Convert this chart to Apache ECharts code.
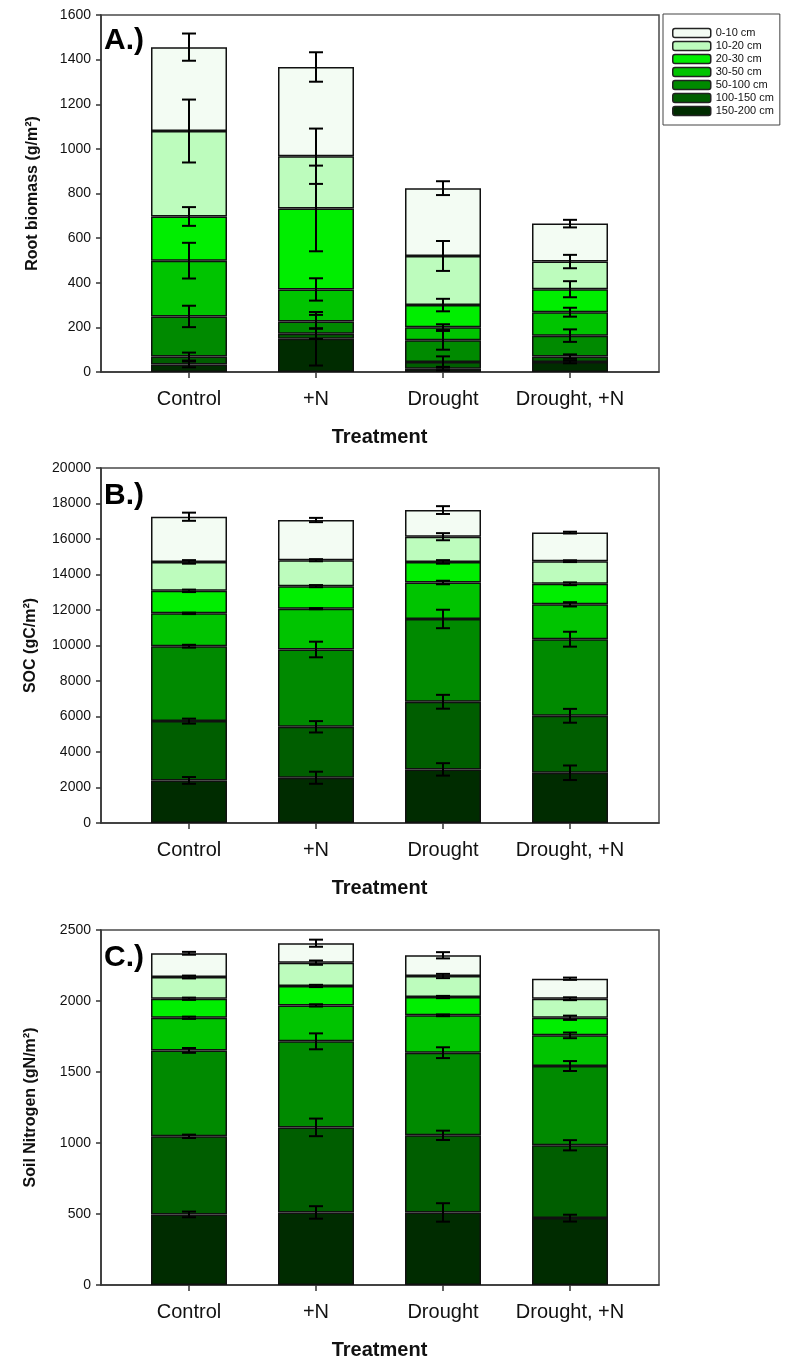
<!DOCTYPE html>
<html>
<head>
<meta charset="utf-8">
<script src="https://cdn.jsdelivr.net/npm/echarts@6/dist/echarts.min.js"></script>
<style>
  html, body { margin: 0; padding: 0; background: #fff; }
  #chart { width: 785px; height: 1363px; }
</style>
</head>
<body>
<div id="chart"></div>
<script>
// Treatments along the x axis
const treatments = ['Control', '+N', 'Drought', 'Drought, +N'];

// Soil depth layers, listed bottom of the stack first
const depthLayers = ['150-200 cm', '100-150 cm', '50-100 cm', '30-50 cm', '20-30 cm', '10-20 cm', '0-10 cm'];

// Root biomass per layer (g/m2); rows follow depthLayers, columns follow treatments
const biomass = [
  [34, 149, 15, 45],
  [35, 22, 30, 24],
  [180, 55, 97, 94],
  [250, 144, 59, 105],
  [198, 363, 99, 103],
  [383, 234, 220, 124],
  [376, 400, 304, 170]
];
const biomassErr = [
  [13, 120, 8, 6],
  [18, 23, 25, 10],
  [48, 30, 42, 28],
  [80, 50, 13, 20],
  [42, 192, 28, 36],
  [141, 124, 67, 30],
  [61, 66, 31, 17]
];

// Soil organic carbon per layer (gC/m2)
const soc = [
  [2400, 2550, 3020, 2830],
  [3340, 2870, 3810, 3210],
  [4220, 4355, 4665, 4315],
  [1850, 2300, 2055, 1965],
  [1270, 1270, 1160, 1160],
  [1630, 1460, 1420, 1270],
  [2545, 2265, 1500, 1610]
];
const socErr = [
  [190, 340, 350, 410],
  [140, 320, 390, 390],
  [80, 440, 520, 420],
  [40, 30, 100, 120],
  [70, 60, 100, 80],
  [100, 60, 200, 50],
  [230, 120, 220, 50]
];

// Soil nitrogen per layer (gN/m2)
const nitrogen = [
  [497, 511, 511, 471],
  [550, 599, 543, 513],
  [605, 606, 582, 558],
  [230, 253, 263, 216],
  [134, 137, 129, 124],
  [153, 164, 148, 134],
  [167, 137, 146, 141]
];
const nitrogenErr = [
  [20, 44, 65, 24],
  [12, 62, 33, 36],
  [17, 56, 38, 35],
  [8, 8, 6, 20],
  [8, 8, 8, 15],
  [10, 15, 15, 10],
  [10, 25, 22, 8]
];

// Fill colours, darkest for the deepest layer
const layerColors = ['#002c00', '#005e00', '#008a00', '#00c400', '#00ee00', '#bdfcbd', '#f3fcf3'];

const FONT = '"Liberation Sans", Arial, sans-serif';

const panels = [
  { values: biomass, errors: biomassErr, yMax: 1600, yStep: 200, yName: 'Root biomass (g/m²)', letter: 'A.)', top: 15, height: 357, letterTop: 26, nameGap: 60 },
  { values: soc, errors: socErr, yMax: 20000, yStep: 2000, yName: 'SOC (gC/m²)', letter: 'B.)', top: 468, height: 355, letterTop: 481, nameGap: 62 },
  { values: nitrogen, errors: nitrogenErr, yMax: 2500, yStep: 500, yName: 'Soil Nitrogen (gN/m²)', letter: 'C.)', top: 930, height: 355, letterTop: 943, nameGap: 62 }
];

// Frame spans 101..659 px; the four bars sit on a 127 px pitch inside it
const FRAME_LEFT = 101, FRAME_RIGHT = 126;
const BAR_LEFT = 125.5, BAR_RIGHT = 151.5;

const grid = [], xAxis = [], yAxis = [], series = [], title = [];

panels.forEach((p, pi) => {
  const frameIdx = pi * 2, barIdx = pi * 2 + 1;

  // framed grid carrying the y axis
  grid.push({
    left: FRAME_LEFT, right: FRAME_RIGHT, top: p.top, height: p.height,
    show: true, borderColor: '#4a4a4a', borderWidth: 1.5, backgroundColor: '#fff'
  });
  xAxis.push({
    type: 'value', gridIndex: frameIdx, min: 0, max: 1,
    axisLine: { show: true, onZero: false, lineStyle: { color: '#333', width: 1.5 } },
    axisTick: { show: false }, axisLabel: { show: false }, splitLine: { show: false }
  });
  yAxis.push({
    type: 'value', gridIndex: frameIdx, min: 0, max: p.yMax, interval: p.yStep,
    splitLine: { show: false },
    axisLine: { show: true, lineStyle: { color: '#333', width: 1.5 } },
    axisTick: { show: true, length: 5, lineStyle: { color: '#333', width: 1.5 } },
    axisLabel: { margin: 10, color: '#111', fontFamily: FONT, fontSize: 14, formatter: v => String(v) },
    name: p.yName, nameLocation: 'middle', nameRotate: 90, nameGap: p.nameGap,
    nameTextStyle: { fontFamily: FONT, fontSize: 16, fontWeight: 'bold', color: '#111' }
  });

  // inner grid holding the treatment bars
  grid.push({ left: BAR_LEFT, right: BAR_RIGHT, top: p.top, height: p.height });
  xAxis.push({
    type: 'category', gridIndex: barIdx, data: treatments,
    axisLine: { show: false },
    axisTick: { show: true, alignWithLabel: true, interval: 0, length: 6, lineStyle: { color: '#333', width: 1.5 } },
    axisLabel: { interval: 0, hideOverlap: false, margin: 17, color: '#111', fontFamily: FONT, fontSize: 20 },
    name: 'Treatment', nameLocation: 'middle', nameGap: 55,
    nameTextStyle: { fontFamily: FONT, fontSize: 20, fontWeight: 'bold', color: '#111' }
  });
  yAxis.push({
    type: 'value', gridIndex: barIdx, min: 0, max: p.yMax, interval: p.yStep,
    show: false, splitLine: { show: false }
  });

  title.push({
    text: p.letter, left: 104, top: p.letterTop, padding: 0,
    textStyle: { fontFamily: FONT, fontSize: 30, fontWeight: 'bold', color: '#000' }
  });

  // stacked bars, one series per depth layer
  p.values.forEach((row, li) => {
    series.push({
      type: 'bar', name: depthLayers[li], xAxisIndex: barIdx, yAxisIndex: barIdx,
      stack: 'panel' + pi, barWidth: 76,
      data: row,
      itemStyle: { color: layerColors[li], borderColor: '#111', borderWidth: 1.5 },
      emphasis: { disabled: true }
    });
  });

  // error bars at the top of every layer
  const errData = [];
  treatments.forEach((t, ti) => {
    let cum = 0;
    p.values.forEach((row, li) => {
      cum += row[ti];
      errData.push([ti, cum, p.errors[li][ti]]);
    });
  });
  series.push({
    type: 'custom', xAxisIndex: barIdx, yAxisIndex: barIdx, z: 10, silent: true,
    data: errData,
    renderItem: (params, api) => {
      const x = api.value(0), y = api.value(1), e = api.value(2);
      const hi = api.coord([x, y + e]);
      const lo = api.coord([x, y - e]);
      const hw = 7;
      const st = { stroke: '#000', lineWidth: 2 };
      return {
        type: 'group',
        children: [
          { type: 'line', shape: { x1: hi[0], y1: hi[1], x2: lo[0], y2: lo[1] }, style: st },
          { type: 'line', shape: { x1: hi[0] - hw, y1: hi[1], x2: hi[0] + hw, y2: hi[1] }, style: st },
          { type: 'line', shape: { x1: lo[0] - hw, y1: lo[1], x2: lo[0] + hw, y2: lo[1] }, style: st }
        ]
      };
    }
  });
});

const chart = echarts.init(document.getElementById('chart'), null, { renderer: 'canvas' });
chart.setOption({
  animation: false,
  backgroundColor: '#fff',
  title,
  grid, xAxis, yAxis, series,
  legend: {
    data: depthLayers.slice().reverse(),
    orient: 'vertical', left: 663, top: 14,
    padding: [13, 6, 8, 9],
    itemWidth: 38, itemHeight: 9, itemGap: 1,
    borderColor: '#444', borderWidth: 1, backgroundColor: '#fff',
    selectedMode: false,
    textStyle: { fontFamily: FONT, fontSize: 11, color: '#111', lineHeight: 12 },
    itemStyle: { borderColor: '#222', borderWidth: 1.5 }
  }
});
</script>
</body>
</html>
